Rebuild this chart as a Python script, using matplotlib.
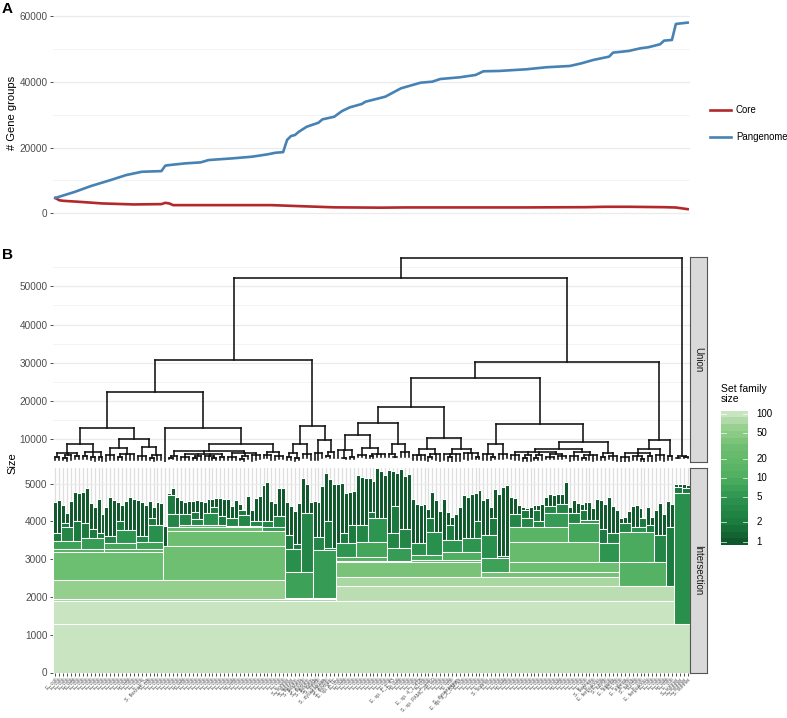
import numpy as np
import matplotlib
matplotlib.use("Agg")
import matplotlib.pyplot as plt
from matplotlib.colors import LinearSegmentedColormap
from matplotlib.lines import Line2D
from matplotlib.collections import LineCollection

plt.rcParams['font.family'] = ['Liberation Sans', 'DejaVu Sans']

# ---------------- DATA ----------------
# Panel A: core / pangenome size while adding genomes in dendrogram order
pan_n = [1, 6, 10, 15, 19, 23, 28, 29, 30, 34, 38, 40, 46, 51, 55, 57, 59, 60, 61, 62,
         63, 65, 68, 69, 72, 74, 76, 79, 80, 85, 89, 94, 97, 99, 104, 108, 110, 114, 121, 126,
         132, 135, 138, 142, 143, 147, 150, 152, 155, 156, 158, 159, 162]
pan_v = [4700, 6560, 8290, 10100, 11630, 12640, 12840, 14500, 14670, 15180, 15490, 16190, 16700, 17200,
         17920, 18400, 18600, 22300, 23470, 23780, 24780, 26300, 27520, 28540, 29330, 31060, 32190,
         33190, 33900, 35410, 37950, 39660, 39970, 40780, 41300, 42000, 43120, 43220, 43730, 44340,
         44730, 45550, 46560, 47560, 48780, 49290, 50100, 50410, 51320, 52420, 52620, 57480, 57880]
core_n = [1, 2, 3, 7, 13, 21, 28, 29, 30, 31, 46, 56, 63, 72, 84, 90, 120, 136, 141, 147, 156, 159, 162]
core_v = [4700, 4000, 3830, 3530, 3030, 2730, 2830, 3220, 3030, 2520, 2520, 2520, 2220, 1850, 1750,
          1820, 1820, 1900, 2020, 2020, 1900, 1800, 1300]


# Panel B: hierarchical sets. node = (union size, intersection size, children); leaf = genome size
def N(union, inter, *kids):
    return (union, inter, kids)


clade_LLL = N(12850, 3200,
              N(8700, 3270,
                N(6300, 3480,
                  N(5300, 3680, 4520, 4560),
                  N(5700, 3860, N(5000, 3960, 4430, 4230), 4540),
                  N(5500, 4000, 4780, 4760)),
                N(6500, 3560,
                  N(5600, 3950, 4780, 4870),
                  N(5300, 3800, 4480, 4370),
                  N(5200, 3700, 4590, 4190))),
              N(9900, 3280,
                N(7600, 3420,
                  N(5800, 3620, 4370, 4630, 4570),
                  N(6200, 3780, N(5200, 4010, 4500, 4430), 4540, 4640, 4580)),
                N(7900, 3450,
                  N(5600, 3600, 4560, 4500, 4430),
                  N(5900, 3900, N(5100, 4100, 4550, 4380), 4520, 4490))))

clade_LLR = N(12800, 3350,
              3880,
              N(8700, 3750,
                N(7000, 3860,
                  N(5600, 4200, N(5000, 4700, 4760, 4870), 4640),
                  N(6100, 3900,
                    N(5300, 4180, 4560, 4520, 4540),
                    N(5500, 4050, N(5000, 4250, 4550, 4560), 4530),
                    N(5600, 4220, 4510, 4600, N(5000, 4380, 4600, 4610)),
                    N(5400, 4150, 4620, 4600)),
                  N(6300, 3880,
                    N(5300, 4100, 4580, 4400, 4570),
                    N(5500, 4170, N(4900, 4300, 4450, 4330), 4680),
                    N(5700, 4020, 4300, 4620, 4670))),
                N(6500, 3850,
                  N(5700, 4000, 4960, 5050, 4550),
                  N(5600, 4150, 4480, 4890, 4880))))

clade_LR = N(13300, 1960,
             N(8700, 2670,
               N(6300, 3270, N(5200, 3650, 4520, 4400), N(5100, 3400, 4270, 4480)),
               N(6200, 4210, 5140, 4990, 4520)),
             N(9700, 3240,
               N(6400, 3590, 4540, 4510, 4930),
               N(6600, 3300, N(5600, 4000, 5270, 5120), 4990)))

clade_L2a1 = N(18300, 2930,
               N(14100, 2960,
                 N(11000, 3065,
                   N(7200, 3420, 5000, N(5100, 3700, 5020, 4750), N(5300, 3900, 4780, 4800)),
                   N(7600, 3440,
                     N(5900, 3900, 5220, 5180, 5150),
                     N(6100, 4100, N(5500, 4250, 5150, 5060), 5400, 5330, 5230))),
                 N(8800, 3300,
                   N(6200, 3700, 5350, N(5400, 4400, 5330, 5270)),
                   N(6500, 3800, 5390, 5200, 5260))),
               N(10200, 2977,
                 N(7300, 3110,
                   N(5700, 3420, 4580, 4460, 4430, 4470),
                   N(6000, 3725, N(5200, 4100, 4320, 4780), 4560, 4280)),
                 N(7500, 3200,
                   N(6100, 3505, 4580, N(5300, 3900, 4250, 4110), 4200, 4370),
                   N(6300, 3550, 4700, 4640, 4730, N(5200, 4000, 4760, 4820)))))

clade_L2a2 = N(13900, 2660,
               N(8700, 3020,
                 N(6200, 3640, 4560, 4620, N(5300, 4100, 4390, 4860)),
                 N(6000, 3070, 4720, 4900, 4960)),
               N(9200, 2930,
                 N(7400, 3460,
                   N(6600, 3860,
                     N(5800, 4200, 4650, 4610, 4430),
                     N(5700, 4080, N(5000, 4300, 4380, 4340), 4370),
                     N(5900, 4000, N(5100, 4290, 4420, 4430), 4450),
                     N(6100, 4210, N(5400, 4400, 4650, 4720, 4700), N(5600, 4450, 4720, 4720, 5050))),
                   N(6700, 3950,
                     N(5600, 4210, 4370, 4570, 4480),
                     N(5800, 4035, N(5100, 4300, 4470, 4500), 4500, 4360, 4580))),
                 N(6300, 3420, N(5300, 3800, 4570, 4470), N(5500, 3700, 4650, 4400, 4300))))

clade_L2b = N(9700, 2300,
              N(7400, 2930,
                N(6300, 3725,
                  N(5400, 3950, 4080, 4120, 4280),
                  N(5600, 3850, 4400, 4430, N(4900, 4100, 4340, 4120)),
                  N(5500, 3900, 4370, 4120)),
                N(5900, 3640, 4300, 4490, 4200)),
              N(5600, 3840, 4540, 4460))

clade_R = N(5450, 4750, N(5150, 4900, 4990, 4985), N(5250, 4880, 5000, 4960))

tree = N(57500, 1280,
         N(52300, 1880,
           N(30800, 1945, N(22200, 2450, clade_LLL, clade_LLR), clade_LR),
           N(30300, 2300, N(26100, 2535, clade_L2a1, clade_L2a2), clade_L2b)),
         clade_R)

labels_LLL = ["E. coli"] * 23 + ["S. flexneri 2a"] + ["E. coli"] * 4
labels_LLR = ["E. coli"] * 31
labels_LR = ["S. sonnei", "S. sonnei", "S. flexneri", "S. flexneri", "S. boydii", "S. flexneri",
             "S. flexneri", "S. boydii", "S. boydii", "S. dysenteriae", "S. boydii", "S. flexneri",
             "E. sp. KTE"]
labels_L2a1 = (["E. coli"] * 14 + ["E. sp. 1_1_43"] + ["E. coli"] * 6 + ["E. sp. 4_1_40B"] +
               ["E. coli"] * 2 + ["S. sp. PAMC 28760"] + ["E. coli"] * 5 +
               ["S. dysenteriae", "E. sp. 3_2_53FAA"] + ["E. coli"] * 5)
labels_L2a2 = (["E. coli", "S. sonnei"] + ["E. coli"] * 25 +
               ["S. flexneri", "E. coli", "E. fergusonii", "E. coli", "S. boydii", "E. coli",
                "E. albertii", "E. coli"])
labels_L2b = ["E. coli", "E. albertii", "E. coli", "S. boydii", "E. coli", "E. coli", "E. fergusonii",
              "E. coli", "E. coli", "E. coli", "E. coli", "E. coli", "E. coli", "E. coli"]
labels_R = ["S. sonnei", "S. sonnei", "S. sonnei", "S. sonnei"]
genome_labels = labels_LLL + labels_LLR + labels_LR + labels_L2a1 + labels_L2a2 + labels_L2b + labels_R

yticks_A = [0, 20000, 40000, 60000]
yticks_union = [10000, 20000, 30000, 40000, 50000]
yticks_inter = [0, 1000, 2000, 3000, 4000, 5000]
legend_ticks = [1, 2, 5, 10, 20, 50, 100]

# colour scale for set family size (log10 position -> colour)
fill_stops = [0.0, 0.15, 0.35, 0.5, 0.65, 0.75, 0.89, 1.0]
fill_cols = ['#0f582b', '#1b7a3e', '#2e9550', '#4fae60', '#64b96a', '#6fbf72', '#96cf8e', '#c8e4c0']

# ---------------- PROCESS TREE ----------------
dend_segs = []
rects = []
counter = [0]


def walk(node, parent_inter):
    if not isinstance(node, tuple):
        k = counter[0]
        counter[0] += 1
        rects.append((k, k, parent_inter, node, 1))
        return float(k), node, k, k
    u, i, kids = node
    res = [walk(c, i) for c in kids]
    for cx, ch, _, _ in res:
        dend_segs.append([(cx, ch), (cx, u)])
    x0, x1 = res[0][0], res[-1][0]
    dend_segs.append([(x0, u), (x1, u)])
    first, last = res[0][2], res[-1][3]
    rects.append((first, last, parent_inter, i, last - first + 1))
    return (x0 + x1) / 2, u, first, last


walk(tree, 0)
n_leaves = counter[0]

cmap = LinearSegmentedColormap.from_list('setfam', list(zip(fill_stops, fill_cols)))


def fill_color(n):
    frac = np.clip(np.log10(n) / 2.0, 0, 1)
    return cmap(frac)


# ---------------- FIGURE ----------------
W, H = 787, 718
fig = plt.figure(figsize=(W / 100, H / 100), dpi=100)


def ax_px(l, t, r, b):
    return fig.add_axes([l / W, 1 - b / H, (r - l) / W, (b - t) / H])


GRID = '#ebebeb'
TICKC = '#4d4d4d'


def style(ax):
    for s in ax.spines.values():
        s.set_visible(False)
    ax.tick_params(axis='y', length=2.5, width=0.6, color='#333333', labelsize=7.2,
                   labelcolor=TICKC, pad=1.5)
    ax.set_axisbelow(True)


# ---- Panel A ----
axA = ax_px(53, 13, 690, 223)
style(axA)
axA.set_xlim(-0.6 + 1, n_leaves + 0.6)
axA.set_ylim(-2900, 60800)
axA.set_yticks(yticks_A)
axA.set_yticks([10000, 30000, 50000], minor=True)
axA.tick_params(axis='y', which='minor', length=0)
axA.set_xticks([])
axA.grid(axis='y', which='major', color=GRID, lw=0.9)
axA.grid(axis='y', which='minor', color='#f2f2f2', lw=0.6)
axA.plot(core_n, core_v, color='#B2282B', lw=1.9, solid_joinstyle='round')
axA.plot(pan_n, pan_v, color='#4682B4', lw=1.9, solid_joinstyle='round')
fig.text(12 / W, 1 - 113 / H, '# Gene groups', rotation=90, ha='center', va='center', fontsize=8)
fig.text(2 / W, 1 - 9 / H, 'A', fontsize=11, fontweight='bold', ha='left', va='center')

# legend
for yy, col, lab in [(110, '#B2282B', 'Core'), (137, '#4682B4', 'Pangenome')]:
    fig.add_artist(Line2D([710 / W, 731 / W], [1 - yy / H, 1 - yy / H], color=col, lw=1.9,
                          transform=fig.transFigure))
    fig.text(736 / W, 1 - yy / H, lab, fontsize=6.9, ha='left', va='center')

# ---- Panel B: union (dendrogram) ----
axU = ax_px(53, 257, 690, 461.7)
style(axU)
axU.set_xlim(-0.6, n_leaves - 0.4)
axU.set_ylim(4070, 57700)
axU.set_yticks(yticks_union)
axU.set_yticks([5000, 15000, 25000, 35000, 45000, 55000], minor=True)
axU.tick_params(axis='y', which='minor', length=0)
axU.set_xticks([])
axU.grid(axis='y', which='major', color=GRID, lw=0.9)
axU.grid(axis='y', which='minor', color='#f2f2f2', lw=0.6)
lc = LineCollection(dend_segs, colors='#111111', linewidths=1.15, capstyle='projecting')
axU.add_collection(lc)
fig.text(2 / W, 1 - 255 / H, 'B', fontsize=11, fontweight='bold', ha='left', va='center')
fig.text(12 / W, 1 - 463 / H, 'Size', rotation=90, ha='center', va='center', fontsize=8)

# ---- Panel B: intersection (stacked sets) ----
axI = ax_px(53, 467.7, 690, 672.5)
style(axI)
axI.set_xlim(-0.6, n_leaves - 0.4)
axI.set_ylim(0, 5418)
axI.set_yticks(yticks_inter)
axI.set_yticks([500, 1500, 2500, 3500, 4500], minor=True)
axI.tick_params(axis='y', which='minor', length=0)
axI.grid(axis='y', which='major', color=GRID, lw=0.9)
axI.grid(axis='y', which='minor', color='#f2f2f2', lw=0.6)
axI.set_xticks(range(n_leaves))
axI.grid(axis='x', which='major', color='#dedede', lw=0.9)
centers = [(r[0] + r[1]) / 2 for r in rects]
widths = [r[1] - r[0] + 1 for r in rects]
bottoms = [r[2] for r in rects]
heights = [r[3] - r[2] for r in rects]
colors = [fill_color(r[4]) for r in rects]
axI.bar(centers, heights, width=widths, bottom=bottoms, color=colors, edgecolor='white',
        linewidth=0.75, zorder=2)
axI.set_xticklabels(genome_labels, rotation=45, ha='right', rotation_mode='anchor',
                    fontsize=3.8, color='#555555')
axI.tick_params(axis='x', length=2.3, width=0.6, color='#333333', pad=1)

# strips
for t, b, lab in [(257, 461.7, 'Union'), (467.7, 672.5, 'Intersection')]:
    s = ax_px(690, t, 707, b)
    s.set_facecolor('#d9d9d9')
    for sp in s.spines.values():
        sp.set_color('#555555')
        sp.set_linewidth(0.8)
    s.set_xticks([])
    s.set_yticks([])
    s.text(0.5, 0.5, lab, rotation=-90, ha='center', va='center', fontsize=7, color='#1a1a1a',
           transform=s.transAxes)

# colour legend
fig.text(721 / W, 1 - 394 / H, 'Set family\nsize', fontsize=7.5, ha='left', va='center',
         linespacing=1.0)
axL = ax_px(721, 410.7, 748, 545)
lo, hi = -0.0516, 2.0516
edges = np.linspace(lo, hi, 21)
mids = (edges[:-1] + edges[1:]) / 2
for e0, e1, m in zip(edges[:-1], edges[1:], mids):
    axL.axhspan(e0, e1, color=fill_color(10 ** m), lw=0)
axL.set_ylim(lo, hi)
axL.set_xlim(0, 1)
axL.set_xticks([])
axL.set_yticks([])
for sp in axL.spines.values():
    sp.set_visible(False)
for t in legend_ticks:
    lt = np.log10(t)
    axL.plot([0, 0.2], [lt, lt], color='white', lw=0.6, alpha=0.8)
    axL.plot([0.8, 1.0], [lt, lt], color='white', lw=0.6, alpha=0.8)
    axL.text(1.3, lt, str(t), fontsize=7, ha='left', va='center', transform=axL.transData)

fig.savefig('out.png', dpi=100)
